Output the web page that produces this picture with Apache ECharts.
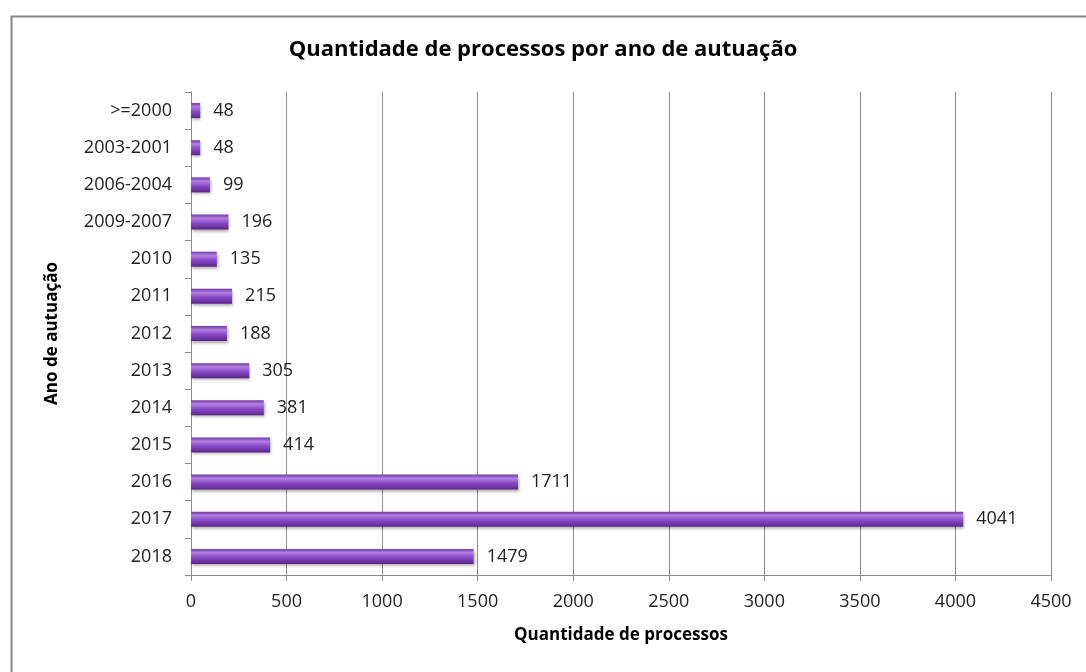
<!DOCTYPE html>
<html>
<head>
<meta charset="utf-8">
<script src="https://cdn.jsdelivr.net/npm/echarts@6/dist/echarts.min.js"></script>
<style>
  html, body { margin: 0; padding: 0; background: #fff; }
  #chart { width: 1086px; height: 672px; }
</style>
</head>
<body>
<div id="chart"></div>
<script>
// categories top to bottom
var years = ['>=2000', '2003-2001', '2006-2004', '2009-2007', '2010', '2011', '2012', '2013', '2014', '2015', '2016', '2017', '2018']
var processos = [48, 48, 99, 196, 135, 215, 188, 305, 381, 414, 1711, 4041, 1479]
var xTicks = [0, 500, 1000, 1500, 2000, 2500, 3000, 3500, 4000, 4500]

var font = '"Open Sans", "Noto Sans", sans-serif'
var chart = echarts.init(document.getElementById('chart'), null, { renderer: 'canvas' })

chart.setOption({
  animation: false,
  backgroundColor: '#fff',
  graphic: [{
    type: 'rect',
    left: 9,
    top: 14,
    shape: { width: 1100, height: 700 },
    style: { fill: 'none', stroke: '#868686', lineWidth: 2 },
    silent: true
  }],
  title: {
    text: 'Quantidade de processos por ano de autuação',
    left: 'center',
    top: 34,
    textStyle: { fontFamily: font, fontSize: 22, fontWeight: 'bold', color: '#000' }
  },
  grid: { left: 191, right: 35, top: 92, bottom: 97 },
  xAxis: {
    type: 'value',
    min: xTicks[0],
    max: xTicks[xTicks.length - 1],
    interval: 500,
    name: 'Quantidade de processos',
    nameLocation: 'middle',
    nameGap: 52,
    nameTextStyle: { fontFamily: font, fontSize: 17, fontWeight: 'bold', color: '#000' },
    axisLine: { show: true, lineStyle: { color: '#8c8c8c', width: 1 } },
    axisTick: { show: true, length: 6, lineStyle: { color: '#8c8c8c' } },
    axisLabel: { fontFamily: font, fontSize: 18, color: '#222', margin: 18, formatter: function (v) { return String(v) } },
    splitLine: { show: true, lineStyle: { color: '#8c8c8c', width: 1 } }
  },
  yAxis: {
    type: 'category',
    data: years,
    inverse: true,
    name: 'Ano de autuação',
    nameLocation: 'middle',
    nameGap: 130,
    nameRotate: 90,
    nameTextStyle: { fontFamily: font, fontSize: 17, fontWeight: 'bold', color: '#000' },
    axisLine: { show: true, lineStyle: { color: '#8c8c8c', width: 1 } },
    axisTick: { show: true, length: 6, lineStyle: { color: '#8c8c8c' } },
    axisLabel: { fontFamily: font, fontSize: 18, color: '#222', margin: 19 }
  },
  series: [{
    type: 'bar',
    data: processos,
    barWidth: 15,
    itemStyle: {
      color: new echarts.graphic.LinearGradient(0, 0, 0, 1, [
        { offset: 0, color: '#7436a8' },
        { offset: 0.25, color: '#b080e0' },
        { offset: 0.55, color: '#8a4cc8' },
        { offset: 1, color: '#5e238c' }
      ]),
      shadowColor: 'rgba(0,0,0,0.35)',
      shadowBlur: 3,
      shadowOffsetX: 1,
      shadowOffsetY: 2
    },
    label: {
      show: true,
      position: 'right',
      distance: 13,
      fontFamily: font,
      fontSize: 18,
      color: '#222'
    }
  }]
})
</script>
</body>
</html>
